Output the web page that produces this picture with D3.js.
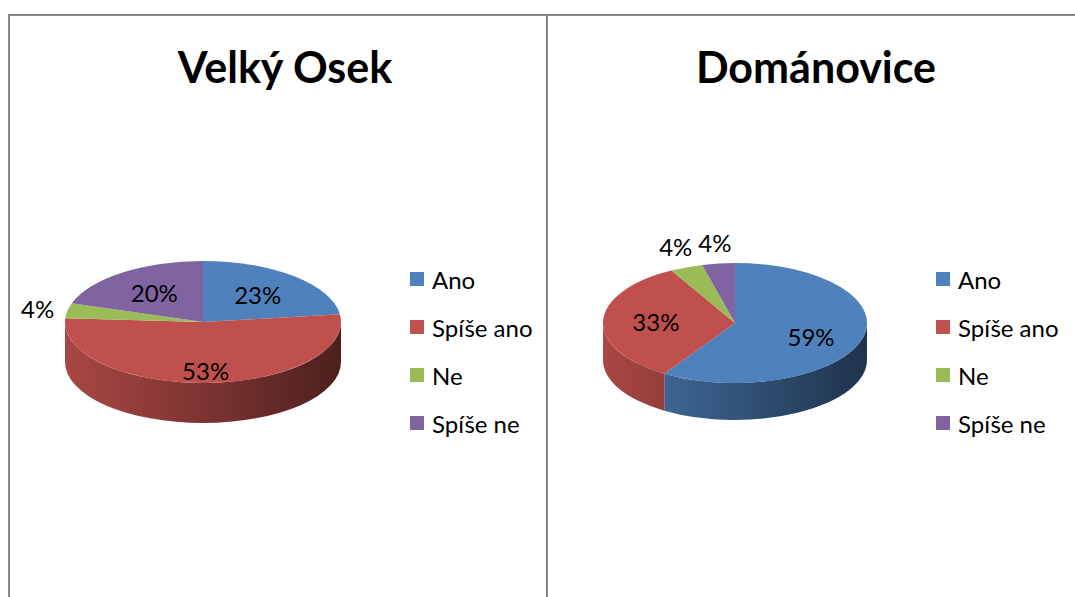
<!DOCTYPE html>
<html>
<head>
<meta charset="utf-8">
<script src="https://cdn.jsdelivr.net/npm/d3@7"></script>
<style>
  html, body { margin: 0; padding: 0; background: #fff; }
  svg { display: block; }
  text { font-family: Lato, "Noto Sans", sans-serif; fill: #000; }
</style>
</head>
<body>
<svg id="chart" width="1075" height="597"></svg>
<script>
// Answer categories shared by both pies
const categories = ["Ano", "Spíše ano", "Ne", "Spíše ne"];
const colors = ["#4F81BD", "#C0504D", "#9BBB59", "#8064A2"];

// Percentages per municipality
const titles = ["Velký Osek", "Dománovice"];
const valuesVelkyOsek = [23, 53, 4, 20];
const valuesDomanovice = [59, 33, 4, 4];

const svg = d3.select("#chart");
const defs = svg.append("defs");
const color = d3.scaleOrdinal().domain(categories).range(colors);

const panels = [
  { title: titles[0], values: valuesVelkyOsek, x: 9,   w: 538, titleX: 285, cx: 203, cy: 322, rx: 138, ry: 61, depth: 40, legendX: 410 },
  { title: titles[1], values: valuesDomanovice, x: 547, w: 540, titleX: 816, cx: 735, cy: 323, rx: 132, ry: 60, depth: 37, legendX: 936 }
];

const pie = d3.pie().sort(null).value(d => d.value).startAngle(0).endAngle(2 * Math.PI);

panels.forEach((p, pi) => {
  const g = svg.append("g");

  // panel frame
  g.append("rect")
    .attr("x", p.x).attr("y", 15).attr("width", p.w).attr("height", 640)
    .attr("fill", "none").attr("stroke", "#878787").attr("stroke-width", 2);

  // title
  g.append("text")
    .attr("x", p.titleX).attr("y", 83)
    .attr("text-anchor", "middle")
    .attr("font-size", 43).attr("font-weight", 700)
    .text(p.title);

  const data = categories.map((c, i) => ({ cat: c, value: p.values[i] }));
  const arcs = pie(data);

  const pt = (t, dy = 0) => [p.cx + p.rx * Math.sin(t), p.cy - p.ry * Math.cos(t) + dy];

  // shaded side wall gradients, lighter on the left, darker on the right
  categories.forEach((c, i) => {
    const base = d3.rgb(color(c));
    const grad = defs.append("linearGradient")
      .attr("id", `side-${pi}-${i}`)
      .attr("gradientUnits", "userSpaceOnUse")
      .attr("x1", p.cx - p.rx).attr("x2", p.cx + p.rx)
      .attr("y1", 0).attr("y2", 0);
    grad.append("stop").attr("offset", 0).attr("stop-color", base.darker(0.35));
    grad.append("stop").attr("offset", 0.5).attr("stop-color", base.darker(1.2));
    grad.append("stop").attr("offset", 1).attr("stop-color", base.darker(2.6));
  });

  // side walls: only the front half (angles between 90° and 270°) is visible
  const sides = g.append("g");
  arcs.forEach((a, i) => {
    const s0 = Math.max(a.startAngle, Math.PI / 2);
    const s1 = Math.min(a.endAngle, 3 * Math.PI / 2);
    if (s0 >= s1) return;
    const large = (s1 - s0) > Math.PI ? 1 : 0;
    const [x0, y0] = pt(s0), [x1, y1] = pt(s1);
    const [x1b, y1b] = pt(s1, p.depth), [x0b, y0b] = pt(s0, p.depth);
    const d = `M${x0},${y0} A${p.rx},${p.ry} 0 ${large} 1 ${x1},${y1}` +
              ` L${x1b},${y1b} A${p.rx},${p.ry} 0 ${large} 0 ${x0b},${y0b} Z`;
    sides.append("path").attr("d", d).attr("fill", `url(#side-${pi}-${i})`);
  });

  // top faces
  const tops = g.append("g");
  arcs.forEach(a => {
    const large = (a.endAngle - a.startAngle) > Math.PI ? 1 : 0;
    const [x0, y0] = pt(a.startAngle), [x1, y1] = pt(a.endAngle);
    const d = `M${p.cx},${p.cy} L${x0},${y0} A${p.rx},${p.ry} 0 ${large} 1 ${x1},${y1} Z`;
    tops.append("path").attr("d", d).attr("fill", color(a.data.cat));
  });

  // percentage labels: inside for larger slices, outside for thin ones
  arcs.forEach(a => {
    const mid = (a.startAngle + a.endAngle) / 2;
    const inside = a.data.value >= 10;
    const r = inside ? 0.6 : 1.22;
    let [lx, ly] = [p.cx + p.rx * r * Math.sin(mid), p.cy - p.ry * r * Math.cos(mid)];
    if (inside && Math.cos(mid) < 0) ly += p.depth * 0.3 * -Math.cos(mid);
    if (!inside && Math.cos(mid) > 0.5) ly -= 8;
    g.append("text")
      .attr("x", lx).attr("y", ly)
      .attr("text-anchor", "middle")
      .attr("dominant-baseline", "central")
      .attr("font-size", 24)
      .text(a.data.value + "%");
  });

  // legend
  const leg = g.append("g");
  categories.forEach((c, i) => {
    const y = 272 + i * 48;
    leg.append("rect").attr("x", p.legendX).attr("y", y).attr("width", 14).attr("height", 14).attr("fill", color(c));
    leg.append("text")
      .attr("x", p.legendX + 22).attr("y", y + 7)
      .attr("dominant-baseline", "central")
      .attr("font-size", 24)
      .text(c);
  });
});
</script>
</body>
</html>
